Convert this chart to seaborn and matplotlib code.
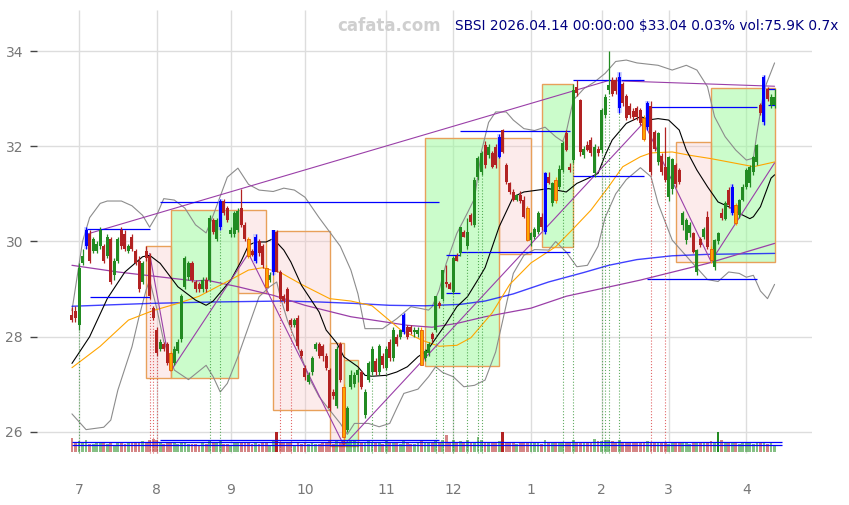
import numpy as np
import pandas as pd
import matplotlib
matplotlib.use('Agg')
import matplotlib.pyplot as plt
from matplotlib.patches import Rectangle
import seaborn as sns

# ---- daily bars (index 0 = 2025-06-27, 199 = 2026-04-14) ----
opens = [28.45, 28.55, 28.25, 29.55, 29.90, 30.15, 29.80, 29.80, 29.90, 29.90,
         29.70, 30.05, 29.30, 29.60, 30.25, 30.15, 29.80, 30.10, 29.80, 29.60,
         29.15, 29.80, 29.70, 28.60, 28.15, 27.75, 27.85, 27.85, 27.65, 27.45,
         27.70, 27.95, 29.05, 29.25, 29.55, 29.15, 29.10, 29.00, 29.20, 29.20,
         30.45, 30.05, 30.30, 30.85, 30.70, 30.15, 30.15, 30.25, 30.70, 30.35,
         30.05, 29.80, 29.60, 30.00, 29.90, 29.45, 29.20, 29.35, 30.20, 29.35,
         28.85, 29.00, 28.35, 28.25, 28.40, 27.70, 27.35, 27.05, 27.25, 27.75,
         27.85, 27.80, 27.60, 27.30, 26.85, 26.55, 27.85, 26.95, 26.05, 26.95,
         27.00, 27.20, 27.25, 26.35, 27.10, 27.25, 27.50, 27.25, 27.60, 27.35,
         27.90, 27.55, 28.00, 28.00, 28.10, 28.20, 28.20, 28.10, 28.05, 28.15,
         27.55, 27.65, 28.05, 28.15, 28.70, 28.80, 29.15, 29.10, 28.95, 29.70,
         29.75, 30.20, 29.90, 30.55, 30.35, 31.35, 31.46, 32.02, 31.81, 31.85,
         31.99, 31.78, 32.34, 31.60, 31.22, 31.04, 30.87, 30.97, 30.88, 30.70,
         30.03, 30.10, 30.20, 30.52, 30.20, 31.36, 30.80, 31.29, 31.15, 31.50,
         32.27, 31.57, 31.71, 33.25, 32.97, 31.81, 32.02, 32.13, 31.43, 31.95,
         31.92, 32.66, 33.18, 33.40, 33.40, 32.80, 33.30, 33.05, 32.85, 32.75,
         32.80, 32.76, 32.60, 32.40, 32.85, 32.30, 31.67, 31.80, 31.57, 30.94,
         31.10, 31.60, 31.50, 30.34, 30.03, 30.17, 30.17, 29.36, 30.06, 30.10,
         30.52, 29.85, 29.47, 30.00, 30.60, 30.48, 31.08, 30.59, 30.76, 30.55,
         30.87, 31.15, 31.22, 31.46, 31.67, 32.86, 32.51, 33.21, 32.86, 32.86]
highs = [28.62, 28.65, 29.55, 29.85, 30.30, 30.25, 30.10, 30.00, 30.30, 29.95,
         30.15, 30.10, 29.65, 30.10, 30.30, 30.25, 29.95, 30.15, 29.85, 29.70,
         29.60, 29.90, 29.75, 28.65, 28.20, 27.95, 27.90, 27.90, 27.70, 27.80,
         27.95, 28.90, 29.70, 29.60, 29.60, 29.20, 29.15, 29.25, 29.25, 30.55,
         30.50, 30.50, 30.90, 30.90, 30.75, 30.30, 30.65, 30.70, 31.10, 30.40,
         30.10, 29.85, 30.15, 30.05, 29.95, 29.50, 29.35, 30.25, 30.25, 29.40,
         28.90, 29.05, 28.40, 28.40, 28.45, 27.75, 27.40, 27.25, 27.60, 27.90,
         27.90, 27.85, 27.65, 27.35, 26.90, 27.80, 27.90, 27.00, 26.55, 27.30,
         27.25, 27.35, 27.30, 26.90, 27.50, 27.80, 27.55, 27.85, 27.65, 27.80,
         27.95, 28.20, 28.05, 28.15, 28.50, 28.25, 28.25, 28.20, 28.20, 28.20,
         27.75, 27.90, 28.10, 28.85, 28.75, 29.40, 29.50, 29.15, 29.70, 29.75,
         30.30, 30.25, 30.50, 30.60, 31.35, 31.80, 31.90, 32.10, 32.05, 31.90,
         32.05, 32.25, 32.36, 31.65, 31.25, 31.10, 31.00, 31.05, 30.95, 30.75,
         30.20, 30.30, 30.65, 30.60, 31.45, 31.45, 31.25, 31.35, 31.60, 32.10,
         32.35, 31.65, 33.30, 33.40, 33.00, 32.00, 32.10, 32.20, 32.05, 32.00,
         32.80, 33.10, 34.00, 33.45, 33.45, 33.55, 33.35, 33.10, 32.90, 32.80,
         32.85, 32.80, 32.65, 32.95, 32.95, 32.35, 32.30, 31.85, 32.40, 31.80,
         31.75, 31.65, 31.55, 30.65, 30.50, 30.40, 30.20, 29.85, 30.10, 30.30,
         30.65, 29.90, 30.05, 30.20, 30.70, 30.85, 31.15, 31.20, 30.80, 30.90,
         31.20, 31.55, 31.60, 31.80, 32.05, 32.90, 33.50, 33.25, 33.10, 33.20]
lows = [28.30, 28.30, 28.15, 29.50, 29.85, 29.55, 29.75, 29.75, 29.85, 29.55,
        29.65, 29.10, 29.20, 29.55, 29.85, 29.80, 29.75, 29.80, 29.50, 28.95,
        29.10, 29.60, 28.80, 28.35, 27.60, 27.70, 27.70, 27.40, 27.28, 27.40,
        27.65, 27.90, 29.00, 29.20, 29.15, 28.95, 28.95, 28.95, 28.95, 29.15,
        30.15, 30.00, 30.25, 30.55, 30.40, 30.10, 30.10, 30.20, 30.30, 30.00,
        29.65, 29.70, 29.55, 29.70, 29.45, 29.05, 29.15, 29.30, 29.35, 28.75,
        28.70, 28.55, 28.20, 28.20, 27.75, 27.55, 27.10, 27.00, 27.20, 27.70,
        27.55, 27.50, 27.30, 26.45, 26.70, 26.50, 27.05, 25.72, 26.00, 26.90,
        26.95, 27.05, 26.90, 26.30, 27.05, 27.20, 27.20, 27.20, 27.35, 27.30,
        27.50, 27.50, 27.80, 27.95, 28.05, 27.95, 28.05, 28.00, 28.00, 27.40,
        27.50, 27.60, 27.90, 28.10, 28.60, 28.75, 29.05, 29.00, 28.90, 29.60,
        29.70, 30.10, 29.85, 30.35, 30.30, 31.30, 31.40, 31.55, 31.75, 31.55,
        31.55, 31.75, 31.85, 31.20, 31.00, 30.85, 30.85, 30.80, 30.50, 30.00,
        29.90, 30.05, 30.15, 30.25, 30.15, 31.20, 30.75, 30.80, 31.10, 31.45,
        31.90, 31.45, 31.65, 33.05, 31.80, 31.75, 31.90, 31.80, 31.35, 31.80,
        31.85, 32.60, 33.10, 33.05, 33.10, 32.70, 32.85, 32.55, 32.60, 32.55,
        32.55, 32.45, 32.10, 32.35, 31.40, 31.90, 31.60, 31.40, 31.25, 30.85,
        31.00, 31.15, 31.20, 30.25, 29.95, 30.10, 29.75, 29.30, 29.88, 30.05,
        29.85, 29.55, 29.40, 29.95, 30.45, 30.45, 30.70, 30.55, 30.35, 30.50,
        30.85, 31.10, 31.15, 31.40, 31.60, 32.65, 32.45, 32.95, 32.80, 32.80]
closes = [28.35, 28.40, 29.45, 29.70, 30.25, 29.60, 30.05, 29.95, 30.25, 29.60,
          30.10, 29.15, 29.60, 30.05, 29.90, 29.85, 29.90, 29.85, 29.55, 29.00,
          29.55, 29.65, 28.85, 28.40, 27.65, 27.90, 27.75, 27.45, 27.30, 27.75,
          27.90, 28.85, 29.65, 29.55, 29.20, 29.00, 29.00, 29.20, 29.00, 30.50,
          30.20, 30.45, 30.85, 30.60, 30.45, 30.25, 30.60, 30.65, 30.35, 30.05,
          29.70, 29.72, 30.10, 29.75, 29.50, 29.05, 29.30, 30.25, 29.35, 28.80,
          28.75, 28.55, 28.25, 28.35, 27.80, 27.60, 27.15, 27.20, 27.55, 27.85,
          27.60, 27.60, 27.35, 26.50, 26.75, 27.75, 27.10, 25.90, 26.50, 27.20,
          27.20, 27.30, 26.95, 26.85, 27.45, 27.75, 27.25, 27.80, 27.40, 27.75,
          27.55, 28.15, 27.85, 28.15, 28.45, 28.00, 28.10, 28.15, 28.15, 27.40,
          27.70, 27.85, 27.95, 28.85, 28.65, 29.40, 29.10, 29.00, 29.65, 29.60,
          30.30, 30.10, 30.20, 30.40, 31.30, 31.75, 31.85, 31.60, 31.99, 31.57,
          31.60, 32.20, 31.88, 31.25, 31.04, 30.87, 30.97, 30.85, 30.52, 30.03,
          30.17, 30.27, 30.59, 30.31, 31.43, 31.22, 31.22, 30.87, 31.53, 32.06,
          31.92, 31.50, 33.18, 33.11, 31.88, 31.95, 31.92, 31.85, 31.99, 31.85,
          32.76, 33.04, 33.29, 33.10, 33.15, 33.45, 32.90, 32.60, 32.65, 32.62,
          32.62, 32.48, 32.16, 32.90, 31.46, 31.95, 32.27, 31.45, 31.29, 31.78,
          31.74, 31.20, 31.25, 30.59, 30.45, 30.34, 29.78, 29.82, 29.92, 30.27,
          29.89, 29.61, 30.03, 30.17, 30.50, 30.80, 30.76, 31.15, 30.38, 30.87,
          31.15, 31.50, 31.57, 31.78, 32.02, 32.69, 33.46, 33.00, 33.03, 33.04]
volumes = [165, 120, 130, 110, 145, 100, 95, 110, 105, 120,
           100, 125, 90, 115, 110, 95, 120, 105, 110, 115,
           130, 120, 150, 155, 140, 110, 100, 115, 120, 105,
           95, 110, 120, 100, 95, 100, 90, 105, 95, 140,
           110, 105, 130, 100, 95, 90, 110, 105, 120, 115,
           110, 100, 120, 95, 105, 110, 90, 140, 235, 120,
           105, 115, 110, 90, 120, 100, 110, 95, 105, 100,
           95, 110, 105, 130, 100, 135, 120, 150, 125, 140,
           130, 120, 110, 125, 130, 115, 120, 110, 100, 135,
           110, 115, 105, 100, 140, 110, 95, 100, 105, 145,
           120, 110, 105, 135, 120, 140, 200, 115, 150, 120,
           130, 110, 140, 120, 125, 175, 140, 120, 115, 110,
           105, 130, 235, 120, 110, 105, 100, 110, 115, 125,
           110, 105, 120, 100, 140, 110, 105, 115, 120, 125,
           120, 110, 150, 115, 120, 110, 105, 125, 160, 130,
           135, 140, 150, 130, 120, 145, 125, 115, 110, 105,
           110, 105, 120, 135, 125, 110, 105, 110, 120, 100,
           115, 110, 105, 120, 110, 100, 115, 105, 110, 120,
           115, 130, 120, 235, 150, 110, 105, 120, 110, 100,
           105, 110, 115, 100, 110, 125, 120, 100, 110, 75.9]
vol_spikes = [58, 122, 183]
blue_bars = [4, 42, 52, 57, 94, 121, 134, 155, 163, 187, 196]
orange_bars = [28, 50, 55, 77, 99, 129, 137, 162, 181, 188]

month_idx = [2, 24, 45, 66, 89, 108, 130, 150, 169, 191]
month_labels = ['7', '8', '9', '10', '11', '12', '1', '2', '3', '4']

# ---- indicator curves (bar index, price) ----
sma20_idx = [0, 5, 10, 15, 20, 22, 25, 30, 35, 38, 40, 45, 48, 50, 52, 55, 57, 60, 62, 65,
             70, 72, 75, 77, 81, 83, 85, 89, 92, 95, 98, 100, 101, 104, 106, 109, 112, 115,
             117, 121, 125, 128, 132, 135, 140, 143, 146, 149, 151, 153, 157, 161, 164, 166,
             169, 172, 174, 177, 180, 183, 186, 189, 192, 193, 195, 198, 199]
sma20_val = [27.44, 28.0, 28.8, 29.36, 29.68, 29.71, 29.54, 29.05, 28.77, 28.66, 28.75, 29.19,
             29.6, 29.92, 29.99, 29.99, 30.06, 29.82, 29.57, 29.08, 28.52, 28.14, 27.87, 27.58,
             27.37, 27.19, 27.17, 27.19, 27.26, 27.37, 27.58, 27.68, 27.75, 28.07, 28.28, 28.63,
             28.84, 29.2, 29.45, 30.31, 30.94, 31.04, 31.08, 31.11, 31.04, 31.22, 31.32, 31.43,
             31.81, 32.13, 32.48, 32.62, 32.56, 32.58, 32.55, 32.34, 31.92, 31.5, 31.15, 30.83,
             30.73, 30.59, 30.48, 30.52, 30.73, 31.33, 31.4]
bb_up_idx = [0, 3, 5, 8, 10, 14, 17, 20, 22, 24, 26, 29, 32, 35, 38, 40, 44, 47, 50, 53, 57,
             60, 63, 66, 70, 73, 76, 79, 81, 83, 88, 92, 96, 99, 101, 102, 104, 106, 109, 112,
             114, 116, 118, 120, 123, 125, 128, 131, 134, 137, 139, 140, 142, 145, 148, 151,
             154, 157, 160, 166, 170, 174, 177, 180, 182, 185, 188, 191, 193, 194, 196, 199]
bb_up_val = [28.55, 30.0, 30.5, 30.8, 30.85, 30.85, 30.75, 30.55, 30.3, 30.55, 30.9, 30.87,
             30.7, 30.35, 30.18, 30.55, 31.35, 31.54, 31.2, 31.08, 31.05, 31.12, 31.08, 30.93,
             30.5, 30.2, 29.9, 29.4, 28.9, 28.17, 28.17, 28.38, 28.63, 28.59, 28.56, 28.63,
             28.98, 29.54, 30.17, 30.6, 30.9, 31.9, 32.5, 32.72, 32.72, 32.55, 32.37, 32.33,
             32.4, 32.2, 32.1, 32.3, 32.97, 33.21, 33.35, 33.53, 33.78, 33.81, 33.75, 33.7,
             33.6, 33.7, 33.6, 33.25, 32.62, 32.2, 31.92, 31.71, 31.75, 32.27, 33.18, 33.75]
bb_lo_idx = [0, 4, 9, 11, 13, 17, 19, 21, 22, 24, 26, 29, 33, 38, 40, 42, 44, 47, 50, 53, 56,
             58, 59, 61, 64, 67, 70, 73, 76, 78, 80, 84, 87, 90, 92, 94, 98, 101, 103, 105,
             108, 111, 114, 117, 120, 125, 128, 131, 135, 137, 140, 143, 146, 149, 151, 154,
             157, 161, 164, 166, 170, 175, 180, 183, 186, 189, 191, 193, 195, 197, 199]
bb_lo_val = [26.38, 26.05, 26.1, 26.25, 26.88, 27.79, 28.42, 28.98, 29.19, 28.6, 27.9, 27.3,
             27.1, 27.4, 27.16, 26.84, 27.02, 27.58, 28.21, 28.84, 29.05, 29.15, 28.84, 28.35,
             27.79, 27.16, 26.74, 26.46, 26.18, 25.95, 26.18, 26.18, 26.11, 26.18, 26.5, 26.81,
             26.9, 27.16, 27.37, 27.25, 27.16, 26.95, 26.98, 27.09, 27.68, 29.33, 29.71, 29.83,
             29.82, 30.0, 29.78, 29.47, 29.5, 29.9, 30.5, 31.0, 31.3, 31.55, 31.36, 30.8,
             30.03, 29.61, 29.2, 29.16, 29.36, 29.33, 29.25, 29.29, 28.96, 28.8, 29.1]
sma50_idx = [0, 8, 16, 23, 30, 36, 45, 50, 54, 59, 65, 73, 79, 85, 89, 93, 99, 104, 109, 113,
             119, 124, 130, 137, 142, 147, 152, 156, 161, 164, 170, 175, 181, 186, 191, 193, 199]
sma50_val = [27.35, 27.8, 28.35, 28.55, 28.7, 28.85, 29.2, 29.4, 29.45, 29.35, 29.1, 28.8,
             28.75, 28.65, 28.4, 28.15, 27.93, 27.8, 27.82, 27.98, 28.5, 29.1, 29.55, 29.89,
             30.27, 30.66, 31.15, 31.57, 31.78, 31.86, 31.88, 31.81, 31.74, 31.67, 31.6, 31.57,
             31.67]
sma_long_idx = [0, 22, 40, 60, 70, 80, 90, 100, 110, 117, 125, 135, 145, 152, 160, 170, 180, 199]
sma_long_val = [28.64, 28.7, 28.73, 28.75, 28.73, 28.7, 28.66, 28.65, 28.68, 28.75, 28.9,
                29.15, 29.35, 29.5, 29.62, 29.7, 29.73, 29.75]
sma200_idx = [0, 13, 35, 38, 47, 57, 66, 79, 95, 102, 109, 117, 130, 140, 161, 180, 199]
sma200_val = [29.5, 29.36, 29.17, 29.19, 29.05, 28.87, 28.66, 28.42, 28.24, 28.2, 28.28,
              28.42, 28.6, 28.85, 29.19, 29.54, 29.96]

# trend lines through pivots
hull_idx = [4, 152, 199]
hull_val = [30.15, 33.38, 33.26]
zig_idx = [22, 28, 50, 77, 162, 181, 199]
zig_val = [29.75, 27.28, 29.75, 25.72, 32.5, 29.58, 31.65]

# swing boxes
box_start = [21, 28, 47, 57, 73, 77, 100, 121, 133, 171, 181]
box_end = [28, 47, 55, 73, 77, 81, 121, 130, 142, 181, 199]
box_low = [27.13, 27.13, 28.91, 26.46, 25.7, 25.7, 27.38, 29.74, 29.89, 29.57, 29.57]
box_high = [29.9, 30.66, 30.66, 30.22, 27.86, 27.52, 32.17, 32.17, 33.3, 32.09, 33.22]
box_up = [0, 1, 0, 0, 0, 1, 1, 0, 1, 0, 1]

# horizontal levels
lvl_start = [4, 5, 25, 106, 106, 110, 110, 142, 142, 163, 163, 197, 197]
lvl_end = [22, 22, 104, 110, 110, 141, 141, 162, 162, 194, 194, 199, 199]
lvl_price = [30.27, 28.83, 30.83, 29.71, 28.91, 29.78, 32.32, 33.4, 31.37, 32.83, 29.22, 33.2, 32.87]

# signal bars (dotted verticals)
sig_green = [2, 39, 42, 85, 89, 103, 105, 108, 112, 115, 116, 139, 142, 150, 151, 152, 155]
sig_red = [22, 23, 24, 59, 62, 164, 168]

vol_lvl = [126, 80]
vol_lvl_part = 147

sns.set_style('white')
plt.rcParams['font.family'] = ['DejaVu Sans']

df = pd.DataFrame({'o': opens, 'h': highs, 'l': lows, 'c': closes, 'v': volumes})
df['i'] = np.arange(len(df))
GREEN, RED, BLUE, ORANGE = '#228b22', '#b22222', '#0000ff', '#ffa500'
cols = np.where(df.c >= df.o, GREEN, RED).astype(object)
cols[blue_bars] = BLUE
cols[orange_bars] = ORANGE

fig = plt.figure(figsize=(8.49, 5.05), dpi=100)
ax = fig.add_axes([37 / 849, 29 / 505, 775 / 849, 466 / 505])
ax.set_xlim(-9.9, 209.6)
ax.set_ylim(25.076, 34.861)
for s in ax.spines.values():
    s.set_visible(False)

ax.set_yticks([26, 28, 30, 32, 34])
ax.yaxis.grid(True, color='#dddddd', lw=1)
ax.set_axisbelow(True)
ax.vlines(month_idx, 25.55, 34.861, color='#dddddd', lw=1, zorder=0)
ax.set_xticks(month_idx, month_labels)
ax.tick_params(axis='x', direction='in', length=4, width=1.2, color='#222222',
               labelcolor='#777777', labelsize=10, pad=5)
ax.tick_params(axis='y', direction='out', length=5, width=1, color='#444444',
               labelcolor='#777777', labelsize=10, left=True, right=False,
               labelleft=True, labelright=True, pad=5)

# boxes
for s0, s1, lo, hi, up in zip(box_start, box_end, box_low, box_high, box_up):
    fc = (0.596, 0.984, 0.596, 0.5) if up else (0.973, 0.753, 0.753, 0.3)
    ax.add_patch(Rectangle((s0, lo), s1 - s0, hi - lo, facecolor=fc,
                           edgecolor='#e8a05a', lw=1, zorder=1))

# indicator lines
PURPLE = '#9a3fa8'
line_kw = dict(ax=ax, estimator=None, sort=False, legend=False)
sns.lineplot(x=bb_up_idx, y=bb_up_val, color='#8c8c8c', lw=0.8, zorder=2, **line_kw)
sns.lineplot(x=bb_lo_idx, y=bb_lo_val, color='#8c8c8c', lw=0.8, zorder=2, **line_kw)
sns.lineplot(x=sma_long_idx, y=sma_long_val, color=BLUE, lw=1.0, alpha=0.75, zorder=2, **line_kw)
sns.lineplot(x=sma200_idx, y=sma200_val, color=PURPLE, lw=0.9, zorder=2, **line_kw)
sns.lineplot(x=sma50_idx, y=sma50_val, color=ORANGE, lw=0.8, zorder=2, **line_kw)
sns.lineplot(x=sma20_idx, y=sma20_val, color='black', lw=0.8, zorder=2, **line_kw)
sns.lineplot(x=hull_idx, y=hull_val, color=PURPLE, lw=0.8, zorder=2, **line_kw)
sns.lineplot(x=zig_idx, y=zig_val, color=PURPLE, lw=0.8, zorder=2, **line_kw)

ax.hlines(lvl_price, lvl_start, lvl_end, color=BLUE, lw=0.9, zorder=2)

# signal verticals
ax.vlines(sig_green, 25.55, df.l[sig_green], colors=GREEN, linestyles=':', lw=0.8, alpha=0.7, zorder=2)
ax.vlines(sig_red, 25.55, df.l[sig_red], colors='#d62728', linestyles=':', lw=0.8, alpha=0.7, zorder=2)

# candles
body_lo = np.minimum(df.o, df.c)
body_h = np.maximum((df.c - df.o).abs(), 0.03)
# soft halo behind the high-volume (blue) candles
ax.bar(df.i[blue_bars], df.h[blue_bars] - df.l[blue_bars], bottom=df.l[blue_bars],
       width=1.3, color='#aab4ff', alpha=0.5, lw=0, zorder=3)
ax.vlines(df.i, df.l, df.h, colors=list(cols), lw=0.9, zorder=3)
ax.bar(df.i, body_h, bottom=body_lo, width=0.85, color=list(cols), lw=0, zorder=4)
ax.bar(df.i[orange_bars], body_h[orange_bars], bottom=body_lo[orange_bars], width=0.85,
       color=ORANGE, edgecolor='#e05a10', lw=0.6, zorder=5)

# volume
axv = ax.twinx()
axv.set_ylim(-24 * 12, 442 * 12)
axv.axis('off')
vcols = np.where(df.c >= df.o, GREEN, RED)
valpha = [1.0 if k in vol_spikes else 0.55 for k in range(len(df))]
for k in range(len(df)):
    axv.bar(k, volumes[k], width=0.8, color=vcols[k], alpha=valpha[k], lw=0)
axv.hlines(vol_lvl, 0, 201, color=BLUE, lw=0.9)
axv.hlines(vol_lvl_part, 25, 104, color=BLUE, lw=0.9)

fig.text(389 / 849, 1 - 26 / 505, 'cafata.com', ha='center', va='center',
         fontsize=12, fontweight='bold', color='#cfcfcf')
fig.text(838 / 849, 1 - 26 / 505, r'SBSI 2026.04.14 00:00:00 \$33.04 0.03% vol:75.9K 0.7x',
         ha='right', va='center', fontsize=9.9, color='#000080')

fig.savefig('out.png', dpi=100)
